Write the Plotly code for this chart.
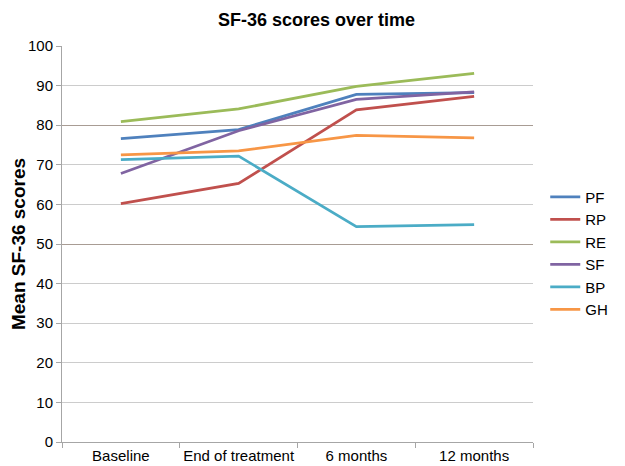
import plotly.graph_objects as go

categories = ["Baseline", "End of treatment", "6 months", "12 months"]
series_names = ["PF", "RP", "RE", "SF", "BP", "GH"]
PF = [76.6, 78.9, 87.8, 88.2]
RP = [60.2, 65.3, 83.9, 87.3]
RE = [80.9, 84.1, 89.8, 93.1]
SF = [67.8, 78.6, 86.5, 88.4]
BP = [71.3, 72.2, 54.4, 54.9]
GH = [72.5, 73.5, 77.4, 76.8]
values = [PF, RP, RE, SF, BP, GH]
colors = ["#4F81BD", "#C0504D", "#9BBB59", "#8064A2", "#4BACC6", "#F79646"]
y_ticks = list(range(0, 101, 10))
dark_grid = [50, 80]

W, H = 617, 458  # page body has an 8px margin

fig = go.Figure()
# helper trace so the overlay axis (darker grid lines) is drawn
fig.add_trace(go.Scatter(x=[categories[0]], y=[None], yaxis="y2", showlegend=False,
                         hoverinfo="skip", mode="lines"))
for name, vals, col in zip(series_names, values, colors):
    fig.add_trace(go.Scatter(x=categories, y=vals, name=name, mode="lines",
                             line=dict(color=col, width=2.75)))

fig.update_layout(
    width=W, height=H,
    margin=dict(l=54, r=70, t=38, b=24),
    paper_bgcolor="white", plot_bgcolor="white",
    font=dict(family="Liberation Sans, Arial, sans-serif", size=15, color="black"),
    title=dict(text="<b>SF-36 scores over time</b>", x=0.5, xanchor="center",
               y=1 - 12/H, yanchor="middle", font=dict(size=18)),
    legend=dict(x=1.026, xanchor="left", y=0.477, yanchor="middle",
                font=dict(size=15), tracegroupgap=0, itemwidth=30),
    showlegend=True,
    yaxis2=dict(overlaying="y", range=[0, 100], tickvals=dark_grid, showticklabels=False,
                showgrid=True, gridcolor="#a89c94", gridwidth=1, zeroline=False,
                showline=False, ticks=""),
)
fig.update_xaxes(type="category", range=[-0.5, 3.5], automargin=False, tickangle=0,
                 showline=True, linecolor="#a6a6a6", linewidth=1,
                 ticks="outside", tickson="boundaries", ticklen=5, tickcolor="#a6a6a6",
                 showgrid=False, tickfont=dict(size=15))
fig.layout.yaxis.update(range=[0, 100], tickvals=y_ticks, showline=True, linecolor="#a6a6a6",
                        linewidth=1, ticks="outside", ticklen=5, tickcolor="#a6a6a6",
                        showgrid=True, gridcolor="#cccccc", gridwidth=1, zeroline=False,
                        automargin=False,
                        title=dict(text="<b>Mean SF-36 scores</b>", font=dict(size=19), standoff=8),
                        tickfont=dict(size=15))

fig.write_html("out.html")
